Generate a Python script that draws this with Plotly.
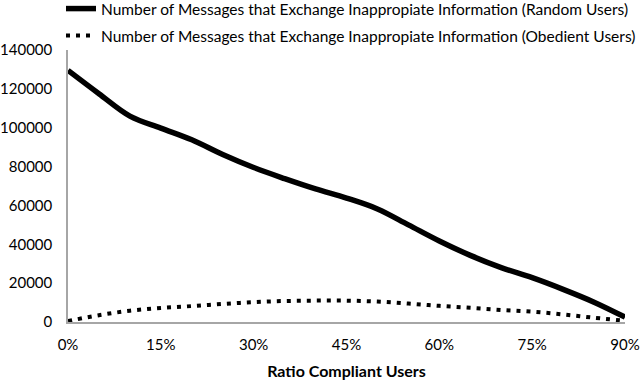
import plotly.graph_objects as go

ratio = [0, 5, 10, 15, 20, 25, 30, 35, 40, 45, 50, 55, 60, 65, 70, 75, 80, 85, 90]
random_users = [129500, 117500, 106000, 99800, 93800, 86200, 79500, 73800, 68500, 63800,
                58200, 50000, 41700, 34300, 28000, 22800, 16800, 10200, 2500]
obedient_users = [500, 3500, 5800, 7200, 8200, 9300, 10200, 10800, 11000, 11000,
                  10500, 9500, 8300, 7300, 6200, 5300, 3900, 2200, 600]
tick_vals = [0, 15, 30, 45, 60, 75, 90]
tick_text = ["0%", "15%", "30%", "45%", "60%", "75%", "90%"]

font = "Lato, Carlito, sans-serif"

fig = go.Figure()
fig.add_trace(go.Scatter(x=ratio, y=random_users, mode="lines", line_shape="spline",
                         name="Number of Messages that Exchange Inappropiate Information (Random Users)",
                         line={"color": "black", "width": 5.5}, legend="legend"))
fig.add_trace(go.Scatter(x=ratio, y=obedient_users, mode="lines", line_shape="spline",
                         name="Number of Messages that Exchange Inappropiate Information (Obedient Users)",
                         line={"color": "black", "width": 4, "dash": "4px,6px"}, legend="legend2"))

legend_style = {"xref": "container", "yref": "container", "xanchor": "left", "yanchor": "middle",
                "bgcolor": "rgba(0,0,0,0)", "font": {"size": 15.5}}
fig.update_layout(
    width=640, height=381, template="plotly_white",
    paper_bgcolor="white", plot_bgcolor="white",
    margin={"l": 68, "r": 15, "t": 50, "b": 59, "autoexpand": False},
    font={"family": font, "size": 15, "color": "black"},
    legend={**legend_style, "x": 61 / 640, "y": 1 - 9 / 381},
    legend2={**legend_style, "x": 61 / 640, "y": 1 - 36 / 381},
    showlegend=True,
)
fig.update_xaxes(range=[0, 90], tickvals=tick_vals, ticktext=tick_text, showgrid=False, zeroline=False,
                 showline=True, linecolor="#a6a6a6", linewidth=1.5, ticks="", automargin=False,
                 ticklabelstandoff=8,
                 title={"text": "<b>Ratio Compliant Users</b>", "font": {"size": 16}, "standoff": 14})
fig.update_yaxes(range=[0, 140000], dtick=20000, tickformat="d", showgrid=False, zeroline=False,
                 showline=True, linecolor="#a6a6a6", linewidth=1.5, ticks="", automargin=False,
                 ticklabelstandoff=11)

fig.write_html("out.html", config={"displayModeBar": False},
               post_script="document.body.style.margin = '0';")
